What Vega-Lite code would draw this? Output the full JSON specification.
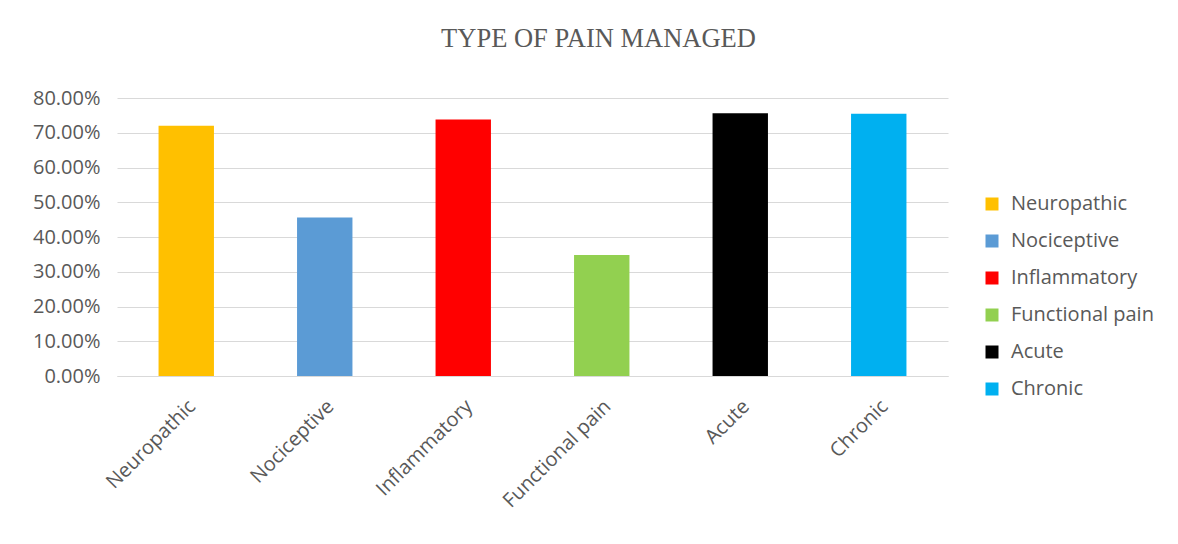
{
  "$schema": "https://vega.github.io/schema/vega-lite/v6.json",
  "width": 831,
  "height": 278,
  "autosize": "none",
  "padding": {"left": 117, "top": 98, "right": 230, "bottom": 168},
  "background": "white",
  "title": {
    "text": "TYPE OF PAIN MANAGED",
    "font": "Liberation Serif",
    "fontSize": 26.5,
    "fontWeight": "normal",
    "color": "#595959",
    "anchor": "middle",
    "dx": 66,
    "offset": 36
  },
  "data": {
    "values": [
      {"type": "Neuropathic", "value": 0.72},
      {"type": "Nociceptive", "value": 0.456},
      {"type": "Inflammatory", "value": 0.738},
      {"type": "Functional pain", "value": 0.348},
      {"type": "Acute", "value": 0.756},
      {"type": "Chronic", "value": 0.755}
    ]
  },
  "mark": {"type": "bar"},
  "encoding": {
    "x": {
      "field": "type",
      "type": "nominal",
      "sort": null,
      "scale": {"paddingInner": 0.6, "paddingOuter": 0.3},
      "axis": {
        "title": null,
        "labelAngle": -45,
        "labelAlign": "right",
        "labelBaseline": "middle",
        "labelFont": "Open Sans",
        "labelFontSize": 20,
        "labelColor": "#595959",
        "labelPadding": 27,
        "labelOffset": 6,
        "ticks": false,
        "domainColor": "#d9d9d9",
        "domainWidth": 1
      }
    },
    "y": {
      "field": "value",
      "type": "quantitative",
      "scale": {"domain": [0, 0.8]},
      "axis": {
        "title": null,
        "format": ".2%",
        "values": [0, 0.1, 0.2, 0.3, 0.4, 0.5, 0.6, 0.7, 0.8],
        "labelFont": "Open Sans",
        "labelFontSize": 20,
        "labelColor": "#595959",
        "labelPadding": 17,
        "ticks": false,
        "domain": false,
        "gridColor": "#d9d9d9",
        "gridWidth": 1
      }
    },
    "color": {
      "field": "type",
      "type": "nominal",
      "sort": null,
      "scale": {
        "domain": ["Neuropathic", "Nociceptive", "Inflammatory", "Functional pain", "Acute", "Chronic"],
        "range": ["#ffc000", "#5b9bd5", "#ff0000", "#92d050", "#000000", "#00b0f0"]
      },
      "legend": {
        "title": null,
        "orient": "none",
        "legendX": 865,
        "legendY": 96,
        "symbolType": "square",
        "symbolSize": 169,
        "symbolStrokeWidth": 0,
        "labelFont": "Open Sans",
        "labelFontSize": 20,
        "labelColor": "#595959",
        "labelOffset": 9,
        "rowPadding": 17
      }
    }
  },
  "config": {"view": {"stroke": null}}
}
